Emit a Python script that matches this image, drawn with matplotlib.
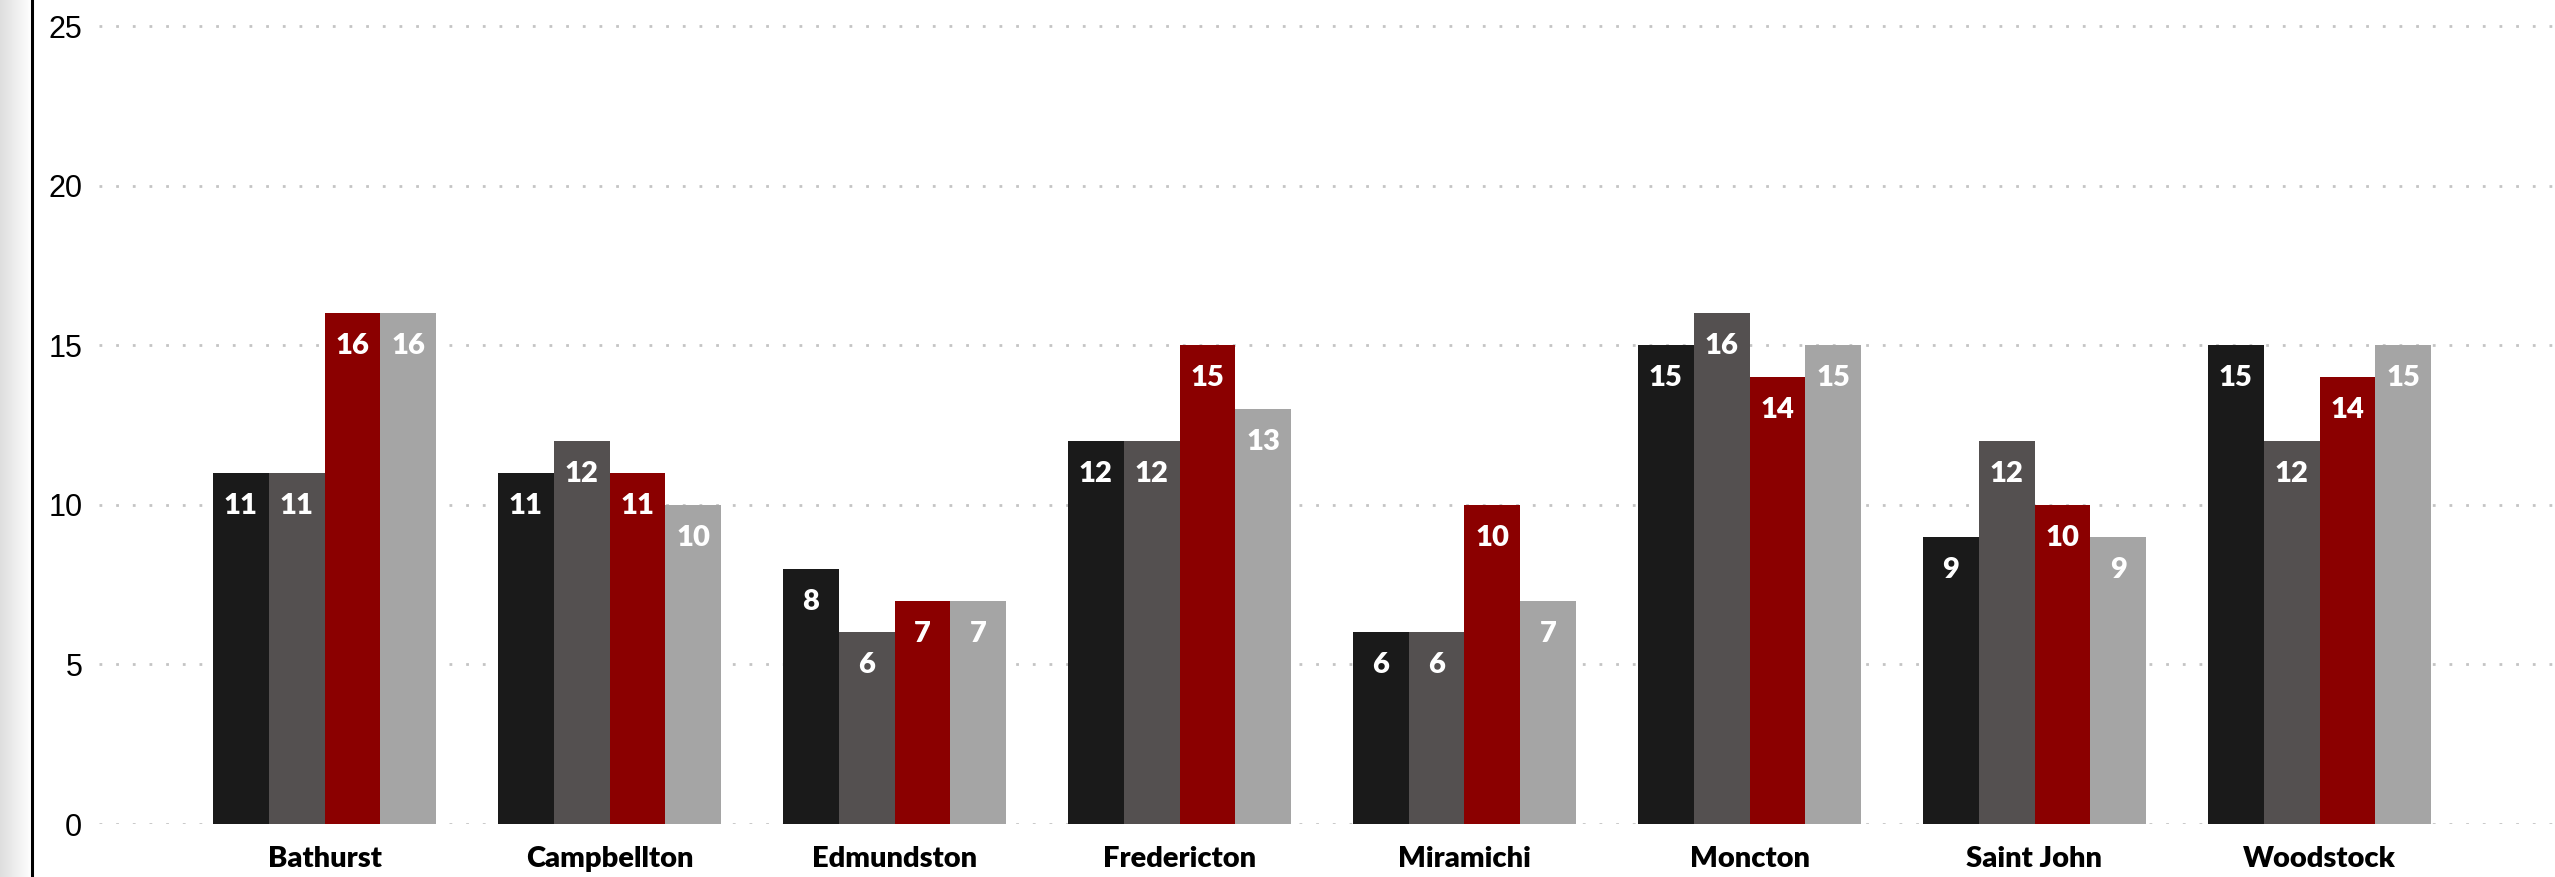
import numpy as np
import matplotlib.pyplot as plt

# Data
cities = ["Bathurst", "Campbellton", "Edmundston", "Fredericton",
          "Miramichi", "Moncton", "Saint John", "Woodstock"]
series_1 = [11, 11, 8, 12, 6, 15, 9, 15]
series_2 = [11, 12, 6, 12, 6, 16, 12, 12]
series_3 = [16, 11, 7, 15, 10, 14, 10, 14]
series_4 = [16, 10, 7, 13, 7, 15, 9, 15]
yticks = [0, 5, 10, 15, 20, 25]

colors = ["#1a1a1a", "#545050", "#8b0000", "#a5a5a5"]

W, H = 2555, 877
fig = plt.figure(figsize=(W / 100, H / 100), dpi=100)

# grey strip on the far left with a black rule
strip = fig.add_axes([0, 0, 31 / W, 1])
grad = np.linspace(0.87, 1.0, 50).reshape(1, -1)
strip.imshow(grad, aspect="auto", cmap="gray", vmin=0, vmax=1, extent=[0, 1, 0, 1])
strip.set_axis_off()
fig.add_artist(plt.Line2D([32 / W, 32 / W], [0, 1], color="black", lw=2.2,
                          transform=fig.transFigure))

# main axes: y=0 at 824 px, y=25 at 26 px
y0_px, y25_px = 824, 26
px_per_unit = (y0_px - y25_px) / 25
ax = fig.add_axes([99 / W, (H - y0_px) / H, 1 - 99 / W, y0_px / H])
ax.set_ylim(0, 25 + y25_px / px_per_unit)

# x: group centres at 324.5 px spaced 285 px
spacing = 285.0
c0 = 324.5
ax.set_xlim((99 - c0) / spacing, (W - c0) / spacing)

x = np.arange(len(cities))
bw = 223 / 4 / spacing
all_series = [series_1, series_2, series_3, series_4]
label_font = ["Lato", "DejaVu Sans"]
for i, (vals, col) in enumerate(zip(all_series, colors)):
    pos = x + (i - 1.5) * bw
    ax.bar(pos, vals, width=bw, color=col, zorder=3, linewidth=0)
    for xp, v in zip(pos, vals):
        ax.annotate(str(v), (xp, v), xytext=(0, -33), textcoords="offset pixels",
                    ha="center", va="center", color="white", fontsize=21,
                    fontweight="heavy", family=label_font, zorder=4)

ax.set_yticks(yticks)
ax.yaxis.grid(True, linestyle=(0, (1, 5)), color="#c4c4c4", linewidth=2)
ax.set_axisbelow(True)
ax.tick_params(axis="y", length=0, pad=12, labelsize=22)
for lab in ax.get_yticklabels():
    lab.set_family(["Liberation Sans", "DejaVu Sans"])

ax.set_xticks(x)
ax.set_xticklabels(cities, fontsize=21, fontweight="heavy", family=label_font)
ax.tick_params(axis="x", length=0, pad=16)

for s in ax.spines.values():
    s.set_visible(False)

plt.savefig("out.png", dpi=100)
